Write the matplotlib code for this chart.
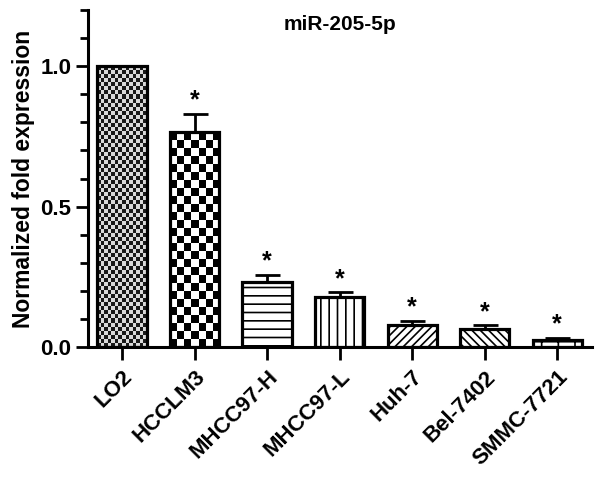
import numpy as np
import matplotlib
matplotlib.use("Agg")
import matplotlib.pyplot as plt

plt.rcParams['font.family'] = ['Liberation Sans', 'DejaVu Sans']
plt.rcParams['hatch.linewidth'] = 1.2

cells = ["LO2", "HCCLM3", "MHCC97-H", "MHCC97-L", "Huh-7", "Bel-7402", "SMMC-7721"]
expr = [1.0, 0.765, 0.233, 0.177, 0.080, 0.063, 0.024]
sem = [0.0, 0.065, 0.025, 0.018, 0.014, 0.014, 0.008]
signif = [False, True, True, True, True, True, True]
hatches = [None, None, "--", "||", "////", "\\\\\\\\", "+"]

fig = plt.figure(figsize=(6.0, 4.78), dpi=100)
ax = fig.add_axes([0.1467, 0.274, 0.84, 0.705])

x = np.arange(len(cells))
faces = ["none", "none"] + ["white"] * 5
bars = ax.bar(x, expr, width=0.68, color=faces, edgecolor="black",
              linewidth=2.3, zorder=2)
for b, h in zip(bars, hatches):
    if h:
        b.set_hatch(h)

# checkerboard fills for the first two bars, clipped to the bar shape
for b, n in zip(bars[:2], [3.4, 6.7]):
    x0, y0 = b.get_x(), b.get_y()
    w, hgt = b.get_width(), b.get_height()
    cols = int(round(49 / n))
    rows = int(round(281 * hgt / 1.2 / n))
    board = (np.add.outer(np.arange(rows), np.arange(cols)) % 2).astype(float)
    if n < 4:
        board = 0.1 + 0.75 * board
    im = ax.imshow(board, extent=[x0, x0 + w, y0, y0 + hgt], cmap="gray",
                   vmin=0, vmax=1, interpolation="nearest", aspect="auto",
                   zorder=1.5)
    im.set_clip_path(b)

ax.errorbar(x[1:], expr[1:], yerr=[[0] * 6, sem[1:]], fmt="none",
            ecolor="black", elinewidth=2, capsize=9, capthick=2, zorder=1)

for xi, v, e, s in zip(x, expr, sem, signif):
    if s:
        ax.annotate("*", (xi, v + e), xytext=(0, 1), textcoords="offset points",
                    ha="center", va="bottom", fontsize=18, fontweight="bold")

ax.set_xlim(-0.47, 6.48)
ax.set_ylim(0, 1.2)
ax.set_yticks([0.0, 0.5, 1.0])
ax.set_yticks(np.arange(0, 1.21, 0.1), minor=True)
ax.set_yticklabels(["0.0", "0.5", "1.0"], fontsize=16, fontweight="bold")
ax.set_xticks(x)
ax.set_xticklabels(cells, rotation=45, ha="right", rotation_mode="anchor",
                   fontsize=16, fontweight="bold")
ax.tick_params(axis="both", which="major", width=2, length=9, direction="out")
ax.tick_params(axis="y", which="minor", width=2, length=6, direction="out")
ax.tick_params(axis="x", pad=5)
ax.tick_params(axis="y", pad=3)

for side in ["top", "right"]:
    ax.spines[side].set_visible(False)
for side in ["left", "bottom"]:
    ax.spines[side].set_linewidth(2.2)

ax.set_ylabel("Normalized fold expression", fontsize=16.5, fontweight="bold",
              labelpad=4)
ax.text(0.5, 0.985, "miR-205-5p", transform=ax.transAxes, ha="center",
        va="top", fontsize=15, fontweight="bold")

fig.savefig("out.png", dpi=100)
